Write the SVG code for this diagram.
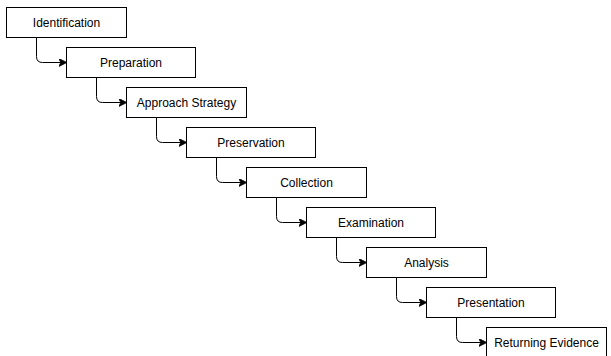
<svg xmlns="http://www.w3.org/2000/svg" width="611" height="356" viewBox="0 0 611 356">
<style>
.box{fill:#fff;stroke:#000;stroke-width:1}
.lbl{font-family:"Liberation Sans",Arial,sans-serif;font-size:12px;fill:#000;text-anchor:middle;dominant-baseline:central}
.edge{fill:none;stroke:#000;stroke-width:1}
</style>
<defs>
<marker id="arr" viewBox="0 0 10 10" refX="9" refY="5" markerWidth="8" markerHeight="8" markerUnits="userSpaceOnUse" orient="auto">
<path d="M0,0 L10,5 L0,10 L2.5,5 Z" fill="#000" stroke="#000" stroke-width="1"/>
</marker>
</defs>
<rect width="611" height="356" fill="#fff"/>
<g id="connectors">
<path class="edge" marker-end="url(#arr)" d="M36.5,37.5 V56.5 Q36.5,62.5 42.5,62.5 H66"/>
<path class="edge" marker-end="url(#arr)" d="M96.5,77.5 V96.5 Q96.5,102.5 102.5,102.5 H126"/>
<path class="edge" marker-end="url(#arr)" d="M156.5,117.5 V136.5 Q156.5,142.5 162.5,142.5 H186"/>
<path class="edge" marker-end="url(#arr)" d="M216.5,157.5 V176.5 Q216.5,182.5 222.5,182.5 H246"/>
<path class="edge" marker-end="url(#arr)" d="M276.5,197.5 V216.5 Q276.5,222.5 282.5,222.5 H306"/>
<path class="edge" marker-end="url(#arr)" d="M336.5,237.5 V256.5 Q336.5,262.5 342.5,262.5 H366"/>
<path class="edge" marker-end="url(#arr)" d="M396.5,277.5 V296.5 Q396.5,302.5 402.5,302.5 H426"/>
<path class="edge" marker-end="url(#arr)" d="M456.5,317.5 V336.5 Q456.5,342.5 462.5,342.5 H486"/>
</g>
<g id="identification"><rect class="box" x="6.5" y="7.5" width="120" height="30"/><text class="lbl" x="66.5" y="22.5">Identification</text></g>
<g id="preparation"><rect class="box" x="66.5" y="47.5" width="129" height="30"/><text class="lbl" x="131" y="62.5">Preparation</text></g>
<g id="approach-strategy"><rect class="box" x="126.5" y="87.5" width="120" height="30"/><text class="lbl" x="186.5" y="102.5">Approach Strategy</text></g>
<g id="preservation"><rect class="box" x="186.5" y="127.5" width="129" height="30"/><text class="lbl" x="251" y="142.5">Preservation</text></g>
<g id="collection"><rect class="box" x="246.5" y="167.5" width="120" height="30"/><text class="lbl" x="306.5" y="182.5">Collection</text></g>
<g id="examination"><rect class="box" x="306.5" y="207.5" width="129" height="30"/><text class="lbl" x="371" y="222.5">Examination</text></g>
<g id="analysis"><rect class="box" x="366.5" y="247.5" width="120" height="30"/><text class="lbl" x="426.5" y="262.5">Analysis</text></g>
<g id="presentation"><rect class="box" x="426.5" y="287.5" width="129" height="30"/><text class="lbl" x="491" y="302.5">Presentation</text></g>
<g id="returning-evidence"><rect class="box" x="486.5" y="327.5" width="120" height="30"/><text class="lbl" x="546.5" y="342.5">Returning Evidence</text></g>
</svg>
